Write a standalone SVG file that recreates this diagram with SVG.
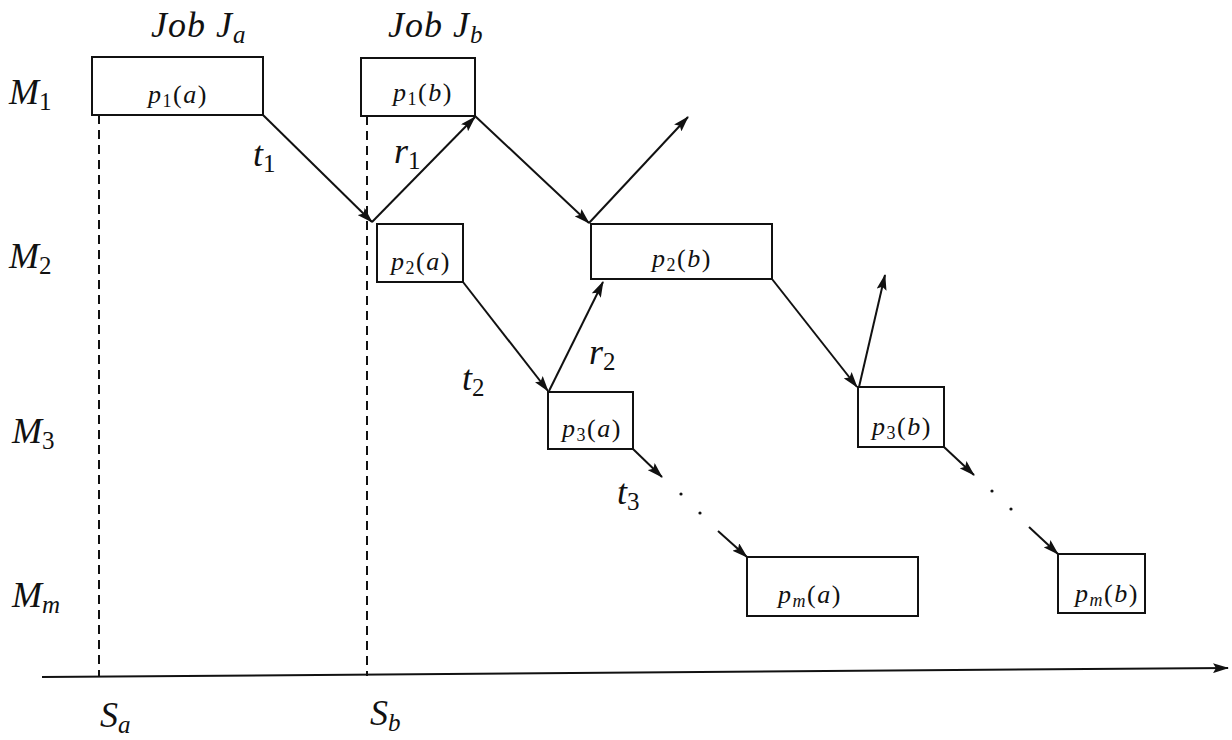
<svg xmlns="http://www.w3.org/2000/svg" width="1232" height="740" viewBox="0 0 1232 740" font-family="Liberation Serif">
<style>
.box{fill:none;stroke:#111;stroke-width:2}
.ln{fill:none;stroke:#111;stroke-width:2}
.dash{fill:none;stroke:#111;stroke-width:2;stroke-dasharray:9 6}
.m{font-style:italic;fill:#111}
.big{font-size:36px}
.lbl{font-size:26px;letter-spacing:1.5px}
.up{font-style:normal}
.dot{fill:#111}
</style>
<defs>
<marker id="ah" markerUnits="userSpaceOnUse" markerWidth="16" markerHeight="10" viewBox="0 0 16 10" refX="15" refY="5" orient="auto">
<path d="M0,0 L16,5 L0,10 L3,5 Z" fill="#111"/>
</marker>
</defs>
<rect width="1232" height="740" fill="#fff"/>
<g id="machines" font-family="Liberation Serif">
<text class="m big" x="9" y="104">M<tspan class="up" font-size="25" dy="6">1</tspan></text>
<text class="m big" x="9" y="268">M<tspan class="up" font-size="25" dy="6">2</tspan></text>
<text class="m big" x="12" y="443">M<tspan class="up" font-size="25" dy="6">3</tspan></text>
<text class="m big" x="12" y="607">M<tspan font-size="25" dy="6">m</tspan></text>
</g>
<g id="jobs" font-family="Liberation Serif">
<text class="m big" x="151" y="37" letter-spacing="1">Job  J<tspan font-size="25" dy="6">a</tspan></text>
<text class="m big" x="388" y="37" letter-spacing="1">Job  J<tspan font-size="25" dy="6">b</tspan></text>
</g>
<g id="time" font-family="Liberation Serif">
<text class="m big" x="100" y="727">S<tspan font-size="25" dy="6">a</tspan></text>
<text class="m big" x="370" y="725">S<tspan font-size="25" dy="6">b</tspan></text>
</g>
<g id="n-p1a" font-family="Liberation Serif"><rect class="box" x="92" y="57" width="171" height="58"/><text class="m lbl" x="178" y="103" text-anchor="middle">p<tspan class="up" font-size="18" dy="4">1</tspan><tspan class="up" dy="-4">(</tspan>a<tspan class="up">)</tspan></text></g>
<g id="n-p1b" font-family="Liberation Serif"><rect class="box" x="361" y="58" width="114" height="58"/><text class="m lbl" x="423" y="101" text-anchor="middle">p<tspan class="up" font-size="18" dy="4">1</tspan><tspan class="up" dy="-4">(</tspan>b<tspan class="up">)</tspan></text></g>
<g id="n-p2a" font-family="Liberation Serif"><rect class="box" x="377" y="224" width="86" height="58"/><text class="m lbl" x="421" y="270" text-anchor="middle">p<tspan class="up" font-size="18" dy="4">2</tspan><tspan class="up" dy="-4">(</tspan>a<tspan class="up">)</tspan></text></g>
<g id="n-p2b" font-family="Liberation Serif"><rect class="box" x="591" y="224" width="181" height="55"/><text class="m lbl" x="682" y="267" text-anchor="middle">p<tspan class="up" font-size="18" dy="4">2</tspan><tspan class="up" dy="-4">(</tspan>b<tspan class="up">)</tspan></text></g>
<g id="n-p3a" font-family="Liberation Serif"><rect class="box" x="548" y="392" width="85" height="57"/><text class="m lbl" x="592" y="437" text-anchor="middle">p<tspan class="up" font-size="18" dy="4">3</tspan><tspan class="up" dy="-4">(</tspan>a<tspan class="up">)</tspan></text></g>
<g id="n-p3b" font-family="Liberation Serif"><rect class="box" x="858" y="387" width="86" height="60"/><text class="m lbl" x="902" y="435" text-anchor="middle">p<tspan class="up" font-size="18" dy="4">3</tspan><tspan class="up" dy="-4">(</tspan>b<tspan class="up">)</tspan></text></g>
<g id="n-pma" font-family="Liberation Serif"><rect class="box" x="747" y="557" width="171" height="59"/><text class="m lbl" x="810" y="603" text-anchor="middle">p<tspan font-size="18" dy="4">m</tspan><tspan class="up" dy="-4">(</tspan>a<tspan class="up">)</tspan></text></g>
<g id="n-pmb" font-family="Liberation Serif"><rect class="box" x="1058" y="554" width="87" height="59"/><text class="m lbl" x="1107" y="602" text-anchor="middle">p<tspan font-size="18" dy="4">m</tspan><tspan class="up" dy="-4">(</tspan>b<tspan class="up">)</tspan></text></g>
<g id="connectors">
<line class="dash" x1="99" y1="115" x2="99" y2="677"/>
<line class="dash" x1="367" y1="116" x2="367" y2="676"/>
<line class="ln" x1="42" y1="677" x2="1228" y2="668" marker-end="url(#ah)"/>
<line class="ln" x1="263" y1="115" x2="372" y2="222" marker-end="url(#ah)"/>
<line class="ln" x1="372" y1="222" x2="475" y2="117" marker-end="url(#ah)"/>
<line class="ln" x1="475" y1="116" x2="589" y2="223" marker-end="url(#ah)"/>
<line class="ln" x1="589" y1="223" x2="688" y2="117" marker-end="url(#ah)"/>
<line class="ln" x1="463" y1="282" x2="548" y2="391" marker-end="url(#ah)"/>
<line class="ln" x1="549" y1="391" x2="603" y2="282" marker-end="url(#ah)"/>
<line class="ln" x1="772" y1="279" x2="857" y2="387" marker-end="url(#ah)"/>
<line class="ln" x1="859" y1="387" x2="885" y2="275" marker-end="url(#ah)"/>
<line class="ln" x1="633" y1="449" x2="662" y2="477" marker-end="url(#ah)"/>
<line class="ln" x1="944" y1="447" x2="974" y2="475" marker-end="url(#ah)"/>
<line class="ln" x1="718" y1="531" x2="747" y2="557" marker-end="url(#ah)"/>
<line class="ln" x1="1029" y1="527" x2="1058" y2="554" marker-end="url(#ah)"/>
</g>
<g id="edge-labels" font-family="Liberation Serif">
<text class="m big" x="253" y="166">t<tspan class="up" font-size="25" dy="6">1</tspan></text>
<text class="m big" x="394" y="163">r<tspan class="up" font-size="25" dy="6">1</tspan></text>
<text class="m big" x="462" y="390">t<tspan class="up" font-size="25" dy="6">2</tspan></text>
<text class="m big" x="589" y="364">r<tspan class="up" font-size="25" dy="6">2</tspan></text>
<text class="m big" x="617" y="504">t<tspan class="up" font-size="25" dy="6">3</tspan></text>
<circle class="dot" cx="681" cy="494" r="1.6"/>
<circle class="dot" cx="700" cy="513" r="1.6"/>
<circle class="dot" cx="992" cy="491" r="1.6"/>
<circle class="dot" cx="1011" cy="509" r="1.6"/>
</g>
</svg>
